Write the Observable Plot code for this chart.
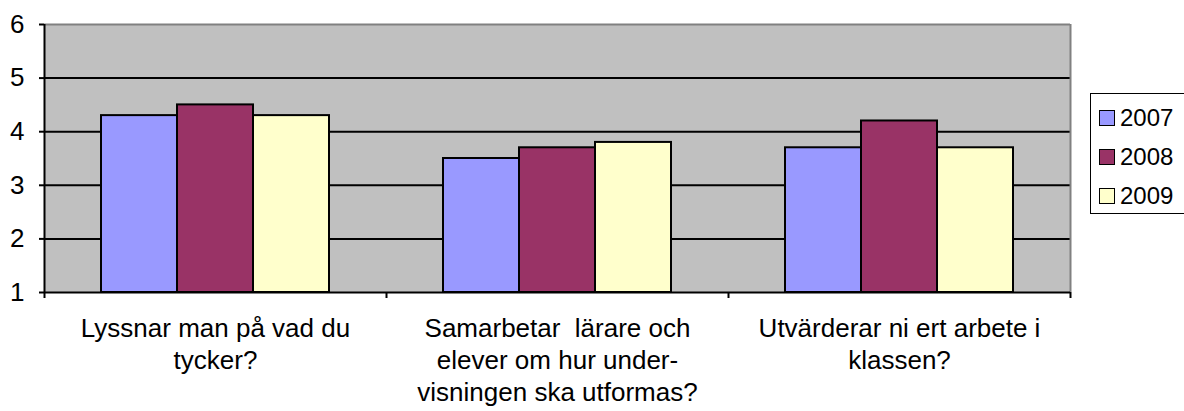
<!DOCTYPE html>
<html>
<head>
<meta charset="utf-8">
<script src="https://cdn.jsdelivr.net/npm/d3@7"></script>
<script src="https://cdn.jsdelivr.net/npm/@observablehq/plot@0.6"></script>
<style>
  html, body { margin: 0; padding: 0; background: white; overflow: hidden; }
  #wrap { position: relative; width: 1184px; height: 411px; }
  svg text { white-space: pre; }
  #legend {
    position: absolute; left: 1090px; top: 93px; width: 120px; height: 121px;
    border: 1.5px solid black; background: white; box-sizing: border-box;
    padding-top: 4px;
    font-family: "Liberation Sans", Arial, sans-serif; font-size: 24px;
  }
  #legend .row { display: flex; align-items: center; height: 39px; }
  #legend .sw { width: 14px; height: 14px; border: 1.5px solid black; margin-left: 8px; margin-right: 5px; }
</style>
</head>
<body>
<div id="wrap"></div>
<script>
const categories = [
  "Lyssnar man på vad du\ntycker?",
  "Samarbetar  lärare och\nelever om hur under-\nvisningen ska utformas?",
  "Utvärderar ni ert arbete i\nklassen?"
];
const years = ["2007", "2008", "2009"];
const values2007 = [4.3, 3.5, 3.7];
const values2008 = [4.5, 3.7, 4.2];
const values2009 = [4.3, 3.8, 3.7];
const colors = ["#9999FF", "#993366", "#FFFFCC"];
const yTicks = [1, 2, 3, 4, 5, 6];
const yTickLabels = ["1", "2", "3", "4", "5", "6"];

const series = [values2007, values2008, values2009];
const rows = [];
categories.forEach((c, g) => {
  years.forEach((yr, j) => {
    const x1 = g + 1/6 + j * (2/9);
    rows.push({category: c, year: yr, value: series[j][g], x1, x2: x1 + 2/9});
  });
});

const chart = Plot.plot({
  width: 1184, height: 411,
  marginLeft: 44, marginRight: 114, marginTop: 24, marginBottom: 119,
  x: {domain: [0, 3], axis: null},
  y: {domain: [1, 6], axis: null},
  color: {domain: years, range: colors},
  style: {fontFamily: "'Liberation Sans', Arial, sans-serif", background: "white", color: "black"},
  marks: [
    Plot.frame({fill: "#C0C0C0", stroke: null}),
    Plot.ruleY([2, 3, 4, 5], {stroke: "black", strokeWidth: 2}),
    Plot.ruleY([6], {stroke: "#808080", strokeWidth: 2}),
    Plot.ruleX([3], {stroke: "#808080", strokeWidth: 2}),
    Plot.rectY(rows, {x1: "x1", x2: "x2", y1: () => 1, y2: "value", fill: "year", stroke: "black", strokeWidth: 2}),
    Plot.ruleX([0], {stroke: "black", strokeWidth: 2}),
    Plot.ruleY([1], {stroke: "black", strokeWidth: 2}),
    Plot.axisY({ticks: yTicks, tickSize: 5, label: null, tickFormat: () => "", stroke: "black", strokeWidth: 2}),
    Plot.text(yTicks, {x: () => 0, y: d => d, text: (d, i) => yTickLabels[i], textAnchor: "end", dx: -20, fontSize: 26, fill: "black"}),
    Plot.axisX({ticks: [0, 1, 2, 3], tickSize: 6, label: null, tickFormat: () => "", stroke: "black", strokeWidth: 2}),
    Plot.text(categories, {x: (d, i) => i + 0.5, y: () => 1, text: d => d, lineAnchor: "top", dy: 22, lineHeight: 1.23, fontSize: 26, fill: "black"})
  ]
});

const wrap = document.getElementById("wrap");
wrap.appendChild(chart);

const legend = document.createElement("div");
legend.id = "legend";
years.forEach((yr, j) => {
  const row = document.createElement("div");
  row.className = "row";
  const sw = document.createElement("div");
  sw.className = "sw";
  sw.style.background = colors[j];
  const lab = document.createElement("span");
  lab.textContent = yr;
  row.appendChild(sw);
  row.appendChild(lab);
  legend.appendChild(row);
});
wrap.appendChild(legend);
</script>
</body>
</html>
